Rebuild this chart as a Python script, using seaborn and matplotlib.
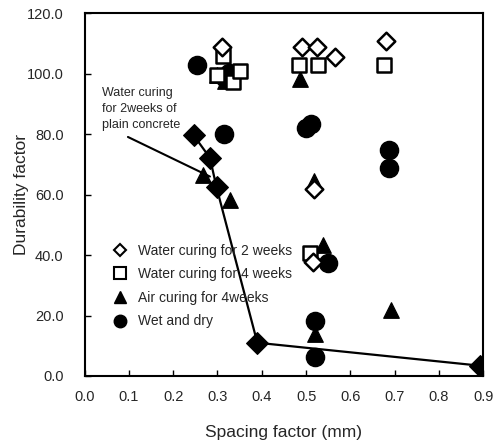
import matplotlib
matplotlib.use("Agg")
import matplotlib.pyplot as plt
import seaborn as sns
import pandas as pd
from matplotlib.lines import Line2D

# ---- data ----
w2_x = [0.31, 0.49, 0.525, 0.565, 0.68, 0.518, 0.515]
w2_y = [108.8, 108.8, 108.8, 105.5, 110.8, 61.8, 37.8]

w4_x = [0.313, 0.298, 0.336, 0.351, 0.483, 0.526, 0.676, 0.509]
w4_y = [105.8, 99.6, 97.4, 100.8, 102.9, 102.9, 103.0, 40.8]

air_x = [0.268, 0.328, 0.486, 0.517, 0.539, 0.692, 0.52, 0.30, 0.318]
air_y = [66.5, 58.2, 98.3, 64.5, 43.3, 21.8, 13.8, 99.5, 97.5]

wd_x = [0.253, 0.315, 0.317, 0.325, 0.50, 0.51, 0.688, 0.688, 0.55, 0.52, 0.52]
wd_y = [103.0, 80.2, 98.5, 100.2, 82.2, 83.3, 74.8, 68.7, 37.3, 18.3, 6.3]

plain_x = [0.246, 0.283, 0.298, 0.390, 0.893]
plain_y = [79.7, 72.2, 62.4, 11.0, 3.4]

x_ticks = [0.0, 0.1, 0.2, 0.3, 0.4, 0.5, 0.6, 0.7, 0.8, 0.9]
y_ticks = [0.0, 20.0, 40.0, 60.0, 80.0, 100.0, 120.0]

sns.set_theme(style="white")
plt.rcParams['font.family'] = ['Liberation Sans', 'DejaVu Sans']

fig = plt.figure(figsize=(5.01, 4.46), dpi=100)
ax = fig.add_axes([0.1687, 0.157, 0.7960, 0.813])

plain = pd.DataFrame({"x": plain_x, "y": plain_y})
sns.lineplot(data=plain, x="x", y="y", sort=False, color="black", lw=1.6,
             marker="D", markersize=11, markeredgecolor="black", ax=ax)

sns.scatterplot(x=wd_x, y=wd_y, marker="o", s=170, color="black",
                edgecolor="black", ax=ax, zorder=3)
sns.scatterplot(x=air_x, y=air_y, marker="^", s=125, color="black",
                edgecolor="black", ax=ax, zorder=4)
sns.scatterplot(x=w4_x, y=w4_y, marker="s", s=95, facecolor="white",
                edgecolor="black", linewidth=1.8, ax=ax, zorder=5)
sns.scatterplot(x=w2_x, y=w2_y, marker="D", s=80, facecolor="white",
                edgecolor="black", linewidth=1.8, ax=ax, zorder=6)

ax.set_xlim(0, 0.9)
ax.set_ylim(0, 120)
ax.set_xticks(x_ticks)
ax.set_yticks(y_ticks)
ax.set_xticklabels([f"{v:.1f}" for v in x_ticks], fontsize=10.5)
ax.set_yticklabels([f"{v:.1f}" for v in y_ticks], fontsize=10.5)
ax.tick_params(direction="in", length=4, width=1, color="black",
               bottom=True, left=True)
ax.tick_params(axis="x", pad=10)
ax.tick_params(axis="y", pad=15)
for s in ax.spines.values():
    s.set_color("black")
    s.set_linewidth(1.5)

ax.set_xlabel("Spacing factor (mm)", fontsize=12.5, va="center")
ax.set_ylabel("Durability factor", fontsize=12.5, va="center")
ax.xaxis.set_label_coords(0.5, -0.157)
ax.yaxis.set_label_coords(-0.157, 0.5)

ax.text(0.04, 81.0, "Water curing\nfor 2weeks of\nplain concrete",
        fontsize=9, ha="left", va="bottom", linespacing=1.45)
ax.annotate("", xy=(0.283, 66.0), xytext=(0.098, 79.1),
            arrowprops=dict(arrowstyle="-", color="black", lw=1.5,
                            shrinkA=0, shrinkB=0))

handles = [
    Line2D([], [], ls="", marker="D", ms=6, mfc="white", mec="black", mew=1.5),
    Line2D([], [], ls="", marker="s", ms=8, mfc="white", mec="black", mew=1.5),
    Line2D([], [], ls="", marker="^", ms=8, mfc="black", mec="black"),
    Line2D([], [], ls="", marker="o", ms=9, mfc="black", mec="black"),
]
labels = ["Water curing for 2 weeks", "Water curing for 4 weeks",
          "Air curing for 4weeks", "Wet and dry"]
ax.legend(handles, labels, loc="upper left", bbox_to_anchor=(0.04, 0.380),
          frameon=False, fontsize=10, handletextpad=0.3, labelspacing=0.69,
          borderaxespad=0)

fig.savefig("out.png", dpi=100)
